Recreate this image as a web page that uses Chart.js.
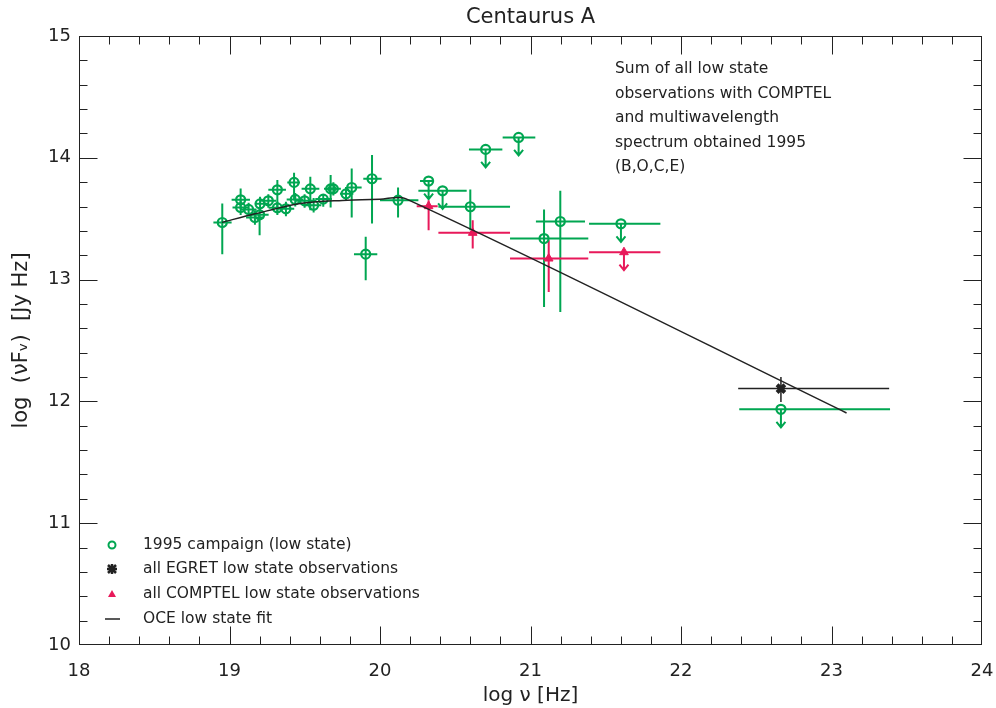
<!DOCTYPE html>
<html>
<head>
<meta charset="utf-8">
<title>Centaurus A</title>
<script src="https://cdn.jsdelivr.net/npm/chart.js@4.4.0/dist/chart.umd.min.js"></script>
<style>
  html, body { margin: 0; padding: 0; background: #fff; }
  #wrap { width: 996px; height: 708px; }
</style>
</head>
<body>
<div id="wrap"><canvas id="sedChart" width="996" height="708"></canvas></div>
<script>
// 1995 campaign (low state), log nu / log nuFnu
const campX = [18.952, 19.074, 19.074, 19.127, 19.169, 19.2, 19.203, 19.258, 19.318, 19.318, 19.375, 19.429, 19.437, 19.499, 19.537, 19.559, 19.623, 19.672, 19.69, 19.774, 19.812, 19.947, 19.905, 20.12, 20.323, 20.416, 20.702, 20.921, 20.6, 21.09, 21.198, 21.601, 22.664];
const campY = [13.469, 13.655, 13.592, 13.576, 13.51, 13.532, 13.622, 13.647, 13.737, 13.589, 13.581, 13.798, 13.658, 13.647, 13.745, 13.611, 13.661, 13.745, 13.745, 13.704, 13.756, 13.828, 13.209, 13.652, 13.809, 13.729, 14.069, 14.167, 13.598, 13.337, 13.477, 13.458, 11.935];
const campXLo = [18.893, 19.014, 19.02, 19.07, 19.11, 19.14, 19.169, 19.2, 19.258, 19.26, 19.32, 19.384, 19.38, 19.44, 19.479, 19.5, 19.57, 19.628, 19.64, 19.734, 19.779, 19.889, 19.827, 20.0, 20.266, 20.255, 20.591, 20.815, 20.388, 20.864, 21.036, 21.389, 22.387];
const campXHi = [19.014, 19.136, 19.13, 19.18, 19.23, 19.26, 19.258, 19.31, 19.375, 19.37, 19.43, 19.468, 19.49, 19.55, 19.597, 19.61, 19.68, 19.716, 19.74, 19.823, 19.878, 20.011, 19.982, 20.255, 20.354, 20.576, 20.813, 21.032, 20.864, 21.384, 21.362, 21.863, 23.389];
const campYLo = [13.209, 13.58, 13.53, 13.52, 13.45, 13.365, 13.56, 13.59, 13.557, 13.53, 13.52, 13.652, 13.6, 13.59, 13.57, 13.55, 13.598, 13.592, 13.69, 13.65, 13.51, 13.461, 12.995, 13.51, 13.809, 13.729, 14.069, 14.167, 13.406, 12.776, 12.735, 13.458, 11.935];
const campYHi = [13.625, 13.748, 13.65, 13.63, 13.57, 13.59, 13.68, 13.7, 13.817, 13.64, 13.64, 13.877, 13.71, 13.7, 13.844, 13.67, 13.694, 13.858, 13.8, 13.76, 13.913, 14.022, 13.351, 13.757, 13.809, 13.729, 14.069, 14.167, 13.74, 13.576, 13.729, 13.458, 11.935];
const campUpper = [0, 0, 0, 0, 0, 0, 0, 0, 0, 0, 0, 0, 0, 0, 0, 0, 0, 0, 0, 0, 0, 0, 0, 0, 1, 1, 1, 1, 0, 0, 0, 1, 1];

// all COMPTEL low state observations
const comptelX = [20.323, 20.616, 21.121, 21.621];
const comptelY = [13.603, 13.384, 13.173, 13.225];
const comptelXLo = [20.244, 20.388, 20.864, 21.389];
const comptelXHi = [20.383, 20.864, 21.384, 21.863];
const comptelYLo = [13.406, 13.255, 12.899, 13.225];
const comptelYHi = [13.652, 13.488, 13.324, 13.225];
const comptelUpper = [0, 0, 0, 1];

// all EGRET low state observations
const egretX = [22.664];
const egretY = [12.105];
const egretXLo = [22.38];
const egretXHi = [23.383];
const egretYLo = [11.995];
const egretYHi = [12.2];
const egretUpper = [0];

// OCE low state fit
const fitX = [18.95, 19.17, 19.47, 19.75, 20.0, 20.17, 23.1];
const fitY = [13.47, 13.54, 13.625, 13.65, 13.66, 13.665, 11.905];

const xTicks = [18, 19, 20, 21, 22, 23, 24];
const yTicks = [10, 11, 12, 13, 14, 15];

const titleText = "Centaurus A";
const noteLines = ["Sum of all low state", "observations with COMPTEL", "and multiwavelength", "spectrum obtained 1995", "(B,O,C,E)"];
const legendLabels = ["1995 campaign (low state)", "all EGRET low state observations", "all COMPTEL low state observations", "OCE low state fit"];

const GREEN = "#00a651";
const RED = "#e8195a";
const INK = "#222";
const FONT = "'DejaVu Sans', sans-serif";

const toPoints = (xs, ys) => xs.map((v, i) => ({ x: v, y: ys[i] }));

const errorBars = {
  id: "errorBars",
  beforeDatasetsDraw(chart) {
    const { ctx, scales: { x, y } } = chart;
    chart.data.datasets.forEach(ds => {
      if (!ds.err) return;
      const e = ds.err;
      ctx.save();
      ctx.strokeStyle = ds.borderColor;
      ctx.lineWidth = ds.barWidth;
      ds.data.forEach((p, i) => {
        const px = x.getPixelForValue(p.x), py = y.getPixelForValue(p.y);
        ctx.beginPath();
        ctx.moveTo(x.getPixelForValue(e.xLo[i]), py);
        ctx.lineTo(x.getPixelForValue(e.xHi[i]), py);
        if (!e.upper[i]) {
          ctx.moveTo(px, y.getPixelForValue(e.yLo[i]));
          ctx.lineTo(px, y.getPixelForValue(e.yHi[i]));
        } else {
          ctx.moveTo(px, py);
          ctx.lineTo(px, py + 18);
          ctx.moveTo(px - 4.5, py + 12.5);
          ctx.lineTo(px, py + 18);
          ctx.lineTo(px + 4.5, py + 12.5);
        }
        ctx.stroke();
      });
      ctx.restore();
    });
  }
};

const frameTicks = {
  id: "frameTicks",
  afterDraw(chart) {
    const { ctx, chartArea: a, scales: { x, y } } = chart;
    const L = Math.round(a.left) + 0.5, R = Math.round(a.right) - 0.5;
    const T = Math.round(a.top) + 0.5, B = Math.round(a.bottom) - 0.5;
    ctx.save();
    ctx.strokeStyle = INK;
    ctx.lineWidth = 1;
    ctx.strokeRect(L, T, R - L, B - T);
    ctx.beginPath();
    for (let i = 1; i < 30; i++) {
      const px = Math.round(x.getPixelForValue(xTicks[0] + i * 0.2)) + 0.5;
      const len = i % 5 === 0 ? 18 : 8;
      ctx.moveTo(px, B); ctx.lineTo(px, B - len);
      ctx.moveTo(px, T); ctx.lineTo(px, T + len);
    }
    for (let i = 1; i < 25; i++) {
      const py = Math.round(y.getPixelForValue(yTicks[0] + i * 0.2)) + 0.5;
      const len = i % 5 === 0 ? 18 : 8;
      ctx.moveTo(L, py); ctx.lineTo(L + len, py);
      ctx.moveTo(R, py); ctx.lineTo(R - len, py);
    }
    ctx.stroke();

    ctx.fillStyle = INK;
    ctx.textBaseline = "middle";
    // title centred over the plot box
    ctx.font = "21px " + FONT;
    ctx.textAlign = "center";
    ctx.fillText(titleText, (a.left + a.right) / 2, 18);
    ctx.textAlign = "left";

    // note in upper right
    ctx.font = "15.5px " + FONT;
    noteLines.forEach((t, i) => ctx.fillText(t, 615, 69 + i * 24.5));

    // legend, lower left
    const ly = [545, 569, 594, 619];
    legendLabels.forEach((t, i) => ctx.fillText(t, 143, ly[i]));
    ctx.strokeStyle = GREEN; ctx.lineWidth = 2;
    ctx.beginPath(); ctx.arc(112, ly[0], 3.5, 0, Math.PI * 2); ctx.stroke();
    ctx.strokeStyle = INK; ctx.lineWidth = 2.5;
    ctx.beginPath();
    ctx.moveTo(108, ly[1] - 4); ctx.lineTo(116, ly[1] + 4);
    ctx.moveTo(116, ly[1] - 4); ctx.lineTo(108, ly[1] + 4);
    ctx.moveTo(112, ly[1] - 5); ctx.lineTo(112, ly[1] + 5);
    ctx.moveTo(107, ly[1]); ctx.lineTo(117, ly[1]);
    ctx.stroke();
    ctx.fillStyle = RED;
    ctx.beginPath();
    ctx.moveTo(112, ly[2] - 4); ctx.lineTo(116, ly[2] + 3); ctx.lineTo(108, ly[2] + 3);
    ctx.closePath(); ctx.fill();
    ctx.strokeStyle = INK; ctx.lineWidth = 1.5;
    ctx.beginPath(); ctx.moveTo(105, ly[3]); ctx.lineTo(120, ly[3]); ctx.stroke();
    ctx.restore();
  }
};

new Chart(document.getElementById("sedChart"), {
  type: "scatter",
  data: {
    datasets: [
      {
        label: "OCE low state fit",
        type: "line",
        data: toPoints(fitX, fitY),
        borderColor: INK,
        borderWidth: 1.5,
        pointRadius: 0,
        tension: 0.3,
        fill: false
      },
      {
        label: "1995 campaign (low state)",
        data: toPoints(campX, campY),
        pointStyle: "circle",
        pointRadius: 4.5,
        borderWidth: 2.2,
        borderColor: GREEN,
        backgroundColor: "rgba(0,0,0,0)",
        barWidth: 2,
        err: { xLo: campXLo, xHi: campXHi, yLo: campYLo, yHi: campYHi, upper: campUpper }
      },
      {
        label: "all COMPTEL low state observations",
        data: toPoints(comptelX, comptelY),
        pointStyle: "triangle",
        pointRadius: 5,
        borderWidth: 1,
        borderColor: RED,
        backgroundColor: RED,
        barWidth: 2,
        err: { xLo: comptelXLo, xHi: comptelXHi, yLo: comptelYLo, yHi: comptelYHi, upper: comptelUpper }
      },
      {
        label: "all EGRET low state observations",
        data: toPoints(egretX, egretY),
        pointStyle: "crossRot",
        pointRadius: 5.5,
        borderWidth: 4,
        borderColor: INK,
        backgroundColor: INK,
        barWidth: 1.5,
        err: { xLo: egretXLo, xHi: egretXHi, yLo: egretYLo, yHi: egretYHi, upper: egretUpper }
      }
    ]
  },
  options: {
    responsive: false,
    animation: false,
    devicePixelRatio: 1,
    layout: { padding: { left: 0, right: 14, top: 36, bottom: 0 } },
    plugins: {
      legend: { display: false },
      tooltip: { enabled: false },
      title: { display: false }
    },
    scales: {
      x: {
        type: "linear",
        min: 18,
        max: 24,
        afterFit: s => { s.height = 63; s.paddingLeft = 0; s.paddingRight = 0; },
        afterBuildTicks: s => { s.ticks = xTicks.map(v => ({ value: v })); },
        grid: { display: false, drawTicks: false },
        border: { display: false },
        ticks: { color: INK, padding: 16, font: { family: FONT, size: 18 } },
        title: {
          display: true,
          text: "log ν [Hz]",
          color: INK,
          font: { family: FONT, size: 20 },
          padding: { top: 4, bottom: 0 }
        }
      },
      y: {
        type: "linear",
        min: 10,
        max: 15,
        afterFit: s => { s.width = 79; s.paddingTop = 0; s.paddingBottom = 0; },
        afterBuildTicks: s => { s.ticks = yTicks.map(v => ({ value: v })); },
        grid: { display: false, drawTicks: false },
        border: { display: false },
        ticks: { color: INK, padding: 8, font: { family: FONT, size: 18 } },
        title: {
          display: true,
          text: "log  (νF\u1D65)  [Jy Hz]",
          color: INK,
          font: { family: FONT, size: 21 },
          padding: { top: 9, bottom: 0 }
        }
      }
    }
  },
  plugins: [errorBars, frameTicks]
});
</script>
</body>
</html>
